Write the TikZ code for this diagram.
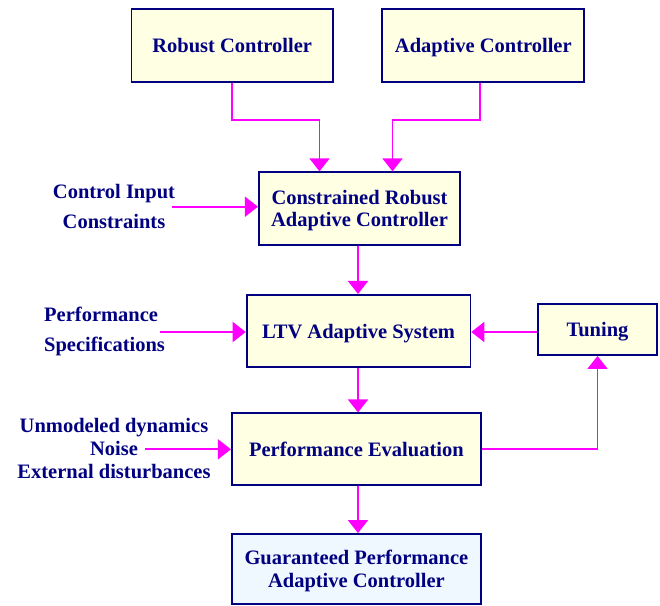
\documentclass[tikz,border=0pt]{standalone}
\usepackage{fontspec}
\setmainfont{Liberation Serif}
\usetikzlibrary{arrows.meta}
\definecolor{navy}{RGB}{0,0,128}
\definecolor{boxyellow}{RGB}{255,255,228}
\definecolor{boxblue}{RGB}{240,248,255}
\definecolor{wire}{RGB}{255,0,255}

\begin{document}
\begin{tikzpicture}[x=1pt, y=-1pt,
    block/.style={draw=navy, line width=1.8pt, fill=boxyellow, text=navy, align=center, inner sep=0pt,
        text depth=0pt, font=\bfseries\fontsize{20.5}{22.5}\selectfont},
    sig/.style={text=navy, inner sep=0pt, font=\bfseries\fontsize{20.5}{30}\selectfont},
    flow/.style={draw=wire, line width=1.8pt, -{Triangle[length=13pt, width=20pt]}}]
\useasboundingbox (0,0) rectangle (660,605);

% Blocks
\node[block, minimum width=201.5pt, minimum height=73pt] (robust) at (232.2,45.8) {Robust Controller};
\node[block, minimum width=202pt, minimum height=73pt] (adaptive) at (483.3,45.8) {Adaptive Controller};
\node[block, minimum width=201.4pt, minimum height=72.7pt] (crac) at (359.5,208.6) {Constrained Robust\\Adaptive Controller};
\node[block, minimum width=223.8pt, minimum height=72.3pt] (ltv) at (358.5,331) {LTV Adaptive System};
\node[block, minimum width=119pt, minimum height=50.7pt] (tuning) at (597.5,329.7) {Tuning};
\node[block, minimum width=249.2pt, minimum height=71.7pt] (perfeval) at (356.4,449.2) {Performance Evaluation};
\node[block, fill=boxblue, minimum width=249.2pt, minimum height=70pt] (gpac) at (356.4,569) {Guaranteed Performance\\Adaptive Controller};

% Outside signals
\node[sig, align=center] (constraints) at (114,206) {Control Input\\Constraints};
\node[sig, align=left, anchor=west] (specs) at (44,331) {Performance\\Specifications};
\node[sig, align=center, font=\bfseries\fontsize{20.5}{23}\selectfont] (disturb) at (114,448.5) {Unmodeled dynamics\\Noise\\External disturbances};
\coordinate (constraints in) at (172,206.7);
\coordinate (specs in) at (160,332);
\coordinate (disturb in) at (145,449.3);

% Connections
\draw[flow] (robust.south) -- ++(0,37) -| ([xshift=-40pt]crac.north);
\draw[flow] ([xshift=-3pt]adaptive.south) -- ++(0,37) -| ([xshift=33pt]crac.north);
\draw[flow] (constraints in) -- (constraints in -| crac.west);
\draw[flow] ([xshift=-1.5pt]crac.south) -- ([xshift=-1.5pt]crac.south |- ltv.north);
\draw[flow] (specs in) -- (specs in -| ltv.west);
\draw[flow] (tuning.west |- specs in) -- (specs in -| ltv.east);
\draw[flow] ([xshift=-0.5pt]ltv.south) -- ([xshift=-0.5pt]ltv.south |- perfeval.north);
\draw[flow] (disturb in) -- (disturb in -| perfeval.west);
\draw[flow] (perfeval.east) -| (tuning.south);
\draw[flow] ([xshift=1.6pt]perfeval.south) -- ([xshift=1.6pt]perfeval.south |- gpac.north);
\end{tikzpicture}
\end{document}
